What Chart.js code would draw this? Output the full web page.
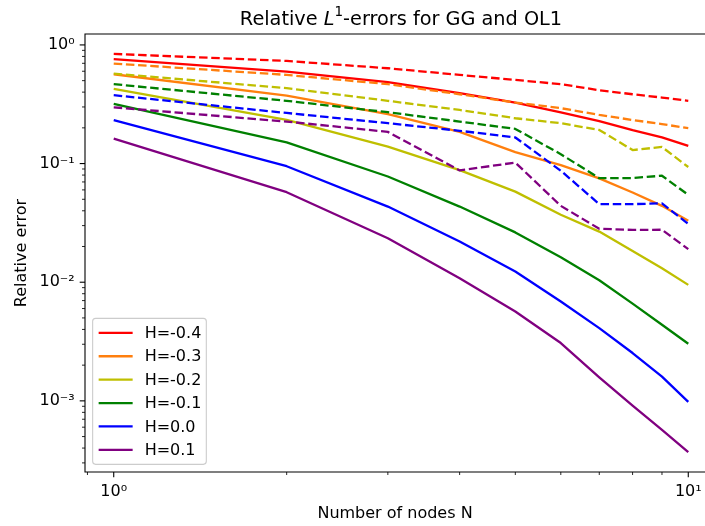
<!DOCTYPE html>
<html>
<head>
<title>Relative L1-errors for GG and OL1</title>
<script src="https://cdn.jsdelivr.net/npm/chart.js@4.4.0/dist/chart.umd.min.js"></script>
<style>
html, body { margin: 0; padding: 0; overflow: hidden; background: #fff; }
</style>
</head>
<body>
<canvas id="errs" width="705" height="526"></canvas>

<script>
// ---- data ----
var nodes = [1, 2, 3, 4, 5, 6, 7, 8, 9, 10];
var hLabels = ['H=-0.4', 'H=-0.3', 'H=-0.2', 'H=-0.1', 'H=0.0', 'H=0.1'];
var lineColors = ['#ff0000', '#ff7f0e', '#bfbf00', '#008000', '#0000ff', '#800080'];

// solid lines (GG)
var ggM04 = [0.758, 0.596, 0.485, 0.392, 0.327, 0.270, 0.228, 0.191, 0.166, 0.141];
var ggM03 = [0.566, 0.374, 0.261, 0.185, 0.125, 0.097, 0.075, 0.057, 0.044, 0.033];
var ggM02 = [0.426, 0.233, 0.139, 0.088, 0.058, 0.037, 0.0267, 0.0183, 0.0131, 0.0095];
var ggM01 = [0.318, 0.151, 0.0778, 0.0434, 0.0263, 0.0162, 0.0104, 0.0066, 0.00438, 0.00303];
var gg00  = [0.232, 0.095, 0.0434, 0.022, 0.0123, 0.00688, 0.0041, 0.00253, 0.0016, 0.00098];
var ggP01 = [0.162, 0.0574, 0.0235, 0.0108, 0.00566, 0.00307, 0.00158, 0.00091, 0.00057, 0.00037];

// dashed lines (OL1)
var olM04 = [0.84, 0.733, 0.636, 0.559, 0.507, 0.467, 0.415, 0.384, 0.36, 0.338];
var olM03 = [0.697, 0.559, 0.467, 0.384, 0.327, 0.293, 0.257, 0.233, 0.215, 0.199];
var olM02 = [0.573, 0.432, 0.338, 0.283, 0.241, 0.219, 0.192, 0.130, 0.138, 0.0935];
var olM01 = [0.467, 0.338, 0.271, 0.226, 0.196, 0.120, 0.0753, 0.0755, 0.079, 0.0545];
var ol00  = [0.377, 0.267, 0.219, 0.189, 0.166, 0.087, 0.0455, 0.0455, 0.0462, 0.031];
var olP01 = [0.298, 0.226, 0.185, 0.0875, 0.102, 0.044, 0.0282, 0.0276, 0.0277, 0.019];

var ggSeries = [ggM04, ggM03, ggM02, ggM01, gg00, ggP01];
var olSeries = [olM04, olM03, olM02, olM01, ol00, olP01];

var titleText = ['Relative ', 'L', '1', '-errors for GG and OL1'];
var xTitle = 'Number of nodes N';
var yTitle = 'Relative error';

// ---- layout: the picture cuts the plot off on the right, no right spine ----
var FONT = '"DejaVu Sans", sans-serif';
var FS = 16;
var LW = 2.3;
var PLOT = {left: 85, top: 34, bottom: 472, right: 705, fullRight: 717};
var canvasW = 705, canvasH = 526;

// build datasets, matplotlib draws later lines on top -> lower order in Chart.js
var datasets = [];
var k = 0;
function pushSet(vals, i, dashed) {
  datasets.push({
    label: hLabels[i],
    data: nodes.map(function (n, j) { return {x: n, y: vals[j]}; }),
    borderColor: lineColors[i],
    backgroundColor: lineColors[i],
    borderWidth: LW,
    borderDash: dashed ? [8.5, 3.7] : [],
    borderJoinStyle: 'round',
    borderCapStyle: 'butt',
    pointRadius: 0,
    fill: false,
    tension: 0,
    inLegend: !dashed,
    order: 100 - (k++)
  });
}
ggSeries.forEach(function (s, i) { pushSet(s, i, false); });
olSeries.forEach(function (s, i) { pushSet(s, i, true); });

// axis limits with matplotlib's 5% margin in log space
function logLimits(vals) {
  var lo = Math.log10(Math.min.apply(null, vals));
  var hi = Math.log10(Math.max.apply(null, vals));
  var m = (hi - lo) * 0.05;
  return {min: Math.pow(10, lo - m), max: Math.pow(10, hi + m)};
}
var allY = [].concat.apply([], ggSeries.concat(olSeries));
var xLim = logLimits(nodes);
var yLim = logLimits(allY);
// only the visible part of the x range
(function () {
  var lo = Math.log10(xLim.min), hi = Math.log10(xLim.max);
  var frac = (PLOT.right - PLOT.left) / (PLOT.fullRight - PLOT.left);
  xLim.max = Math.pow(10, lo + (hi - lo) * frac);
})();

function logTicks(scale) {
  var out = [];
  var e0 = Math.floor(Math.log10(scale.min)), e1 = Math.ceil(Math.log10(scale.max));
  for (var e = e0; e <= e1; e++) {
    for (var m = 1; m <= 9; m++) {
      var v = m * Math.pow(10, e);
      if (v >= scale.min && v <= scale.max) out.push({value: v, major: m === 1});
    }
  }
  scale.ticks = out;
}

var supDigits = {'0': '⁰', '1': '¹', '2': '²', '3': '³', '4': '⁴', '5': '⁵', '6': '⁶', '7': '⁷', '8': '⁸', '9': '⁹', '-': '⁻'};
function decadeLabel(value) {
  var e = Math.log10(value);
  if (Math.abs(e - Math.round(e)) > 1e-6) return '';
  return '10' + String(Math.round(e)).split('').map(function (c) { return supDigits[c]; }).join('');
}

var tickBase = {
  autoSkip: false, maxRotation: 0, minRotation: 0,
  color: '#000', padding: 5,
  font: {family: FONT, size: FS},
  callback: function (value) { return decadeLabel(value); }
};
var gridBase = {
  display: true, drawOnChartArea: false, drawTicks: true,
  tickLength: 5.3, tickColor: 'rgba(0,0,0,0)'
};

// frame, tick marks, title and legend like matplotlib
var mplPlugin = {
  id: 'mplLook',
  afterDatasetsDraw: function (chart) {
    var ctx = chart.ctx, a = chart.chartArea;
    var xs = chart.scales.x, ys = chart.scales.y;
    ctx.save();
    ctx.strokeStyle = '#000';
    xs.ticks.forEach(function (t) {
      var p = xs.getPixelForValue(t.value);
      var len = t.major ? 5.3 : 3;
      ctx.lineWidth = t.major ? 1.1 : 0.85;
      ctx.beginPath(); ctx.moveTo(p, a.bottom); ctx.lineTo(p, a.bottom + len); ctx.stroke();
    });
    ys.ticks.forEach(function (t) {
      var p = ys.getPixelForValue(t.value);
      var len = t.major ? 5.3 : 3;
      ctx.lineWidth = t.major ? 1.1 : 0.85;
      ctx.beginPath(); ctx.moveTo(a.left, p); ctx.lineTo(a.left - len, p); ctx.stroke();
    });
    ctx.lineWidth = 1.1;
    ctx.beginPath();
    ctx.moveTo(a.right + 2, a.top); ctx.lineTo(a.left, a.top);
    ctx.lineTo(a.left, a.bottom); ctx.lineTo(a.right + 2, a.bottom);
    ctx.stroke();

    // title with italic L and superscript 1
    var tf = 19.3;
    var parts = [
      {t: titleText[0], f: tf + 'px ' + FONT, dy: 0},
      {t: titleText[1], f: 'italic ' + tf + 'px ' + FONT, dy: 0},
      {t: titleText[2], f: (tf * 0.7) + 'px ' + FONT, dy: -tf * 0.45},
      {t: titleText[3], f: tf + 'px ' + FONT, dy: 0}
    ];
    var total = 0;
    parts.forEach(function (p) { ctx.font = p.f; p.w = ctx.measureText(p.t).width; total += p.w; });
    var x = (a.left + PLOT.fullRight) / 2 - total / 2, base = a.top - 9;
    ctx.fillStyle = '#000';
    ctx.textBaseline = 'alphabetic';
    ctx.textAlign = 'left';
    parts.forEach(function (p) { ctx.font = p.f; ctx.fillText(p.t, x, base + p.dy); x += p.w; });

    // legend, lower left
    var items = chart.data.datasets.filter(function (d) { return d.inLegend; });
    var step = 23.4, pad = 6.1;
    ctx.font = FS + 'px ' + FONT;
    var tw = 0;
    items.forEach(function (d) { tw = Math.max(tw, ctx.measureText(d.label).width); });
    var bw = 52 + tw + 5;
    var bh = 2 * pad + (items.length - 1) * step + 16.8;
    var bx = a.left + 7.65, by = a.bottom - 7.65 - bh;
    ctx.beginPath();
    if (ctx.roundRect) ctx.roundRect(bx, by, bw, bh, 3); else ctx.rect(bx, by, bw, bh);
    ctx.fillStyle = 'rgba(255,255,255,0.8)';
    ctx.fill();
    ctx.strokeStyle = '#cccccc';
    ctx.lineWidth = 1.1;
    ctx.stroke();
    ctx.textBaseline = 'middle';
    items.forEach(function (d, i) {
      var cy = by + pad + 8.4 + i * step;
      ctx.strokeStyle = d.borderColor;
      ctx.lineWidth = LW;
      ctx.beginPath(); ctx.moveTo(bx + 6, cy); ctx.lineTo(bx + 40, cy); ctx.stroke();
      ctx.fillStyle = '#000';
      ctx.fillText(d.label, bx + 52, cy + 1);
    });
    ctx.restore();
  }
};

var chart = new Chart(document.getElementById('errs').getContext('2d'), {
  type: 'line',
  data: {datasets: datasets},
  options: {
    responsive: false,
    animation: false,
    devicePixelRatio: 1,
    layout: {padding: {left: 0, top: PLOT.top, right: canvasW - PLOT.right, bottom: 0}},
    plugins: {legend: {display: false}, title: {display: false}, tooltip: {enabled: false}},
    scales: {
      x: {
        type: 'logarithmic', position: 'bottom',
        min: xLim.min, max: xLim.max,
        afterBuildTicks: logTicks,
        afterFit: function (s) { s.height = canvasH - PLOT.bottom; s.paddingRight = 0; },
        ticks: tickBase,
        grid: gridBase,
        border: {display: false},
        title: {display: true, text: xTitle, color: '#000', font: {family: FONT, size: FS}, padding: {top: 0, bottom: 3}}
      },
      y: {
        type: 'logarithmic', position: 'left',
        min: yLim.min, max: yLim.max,
        afterBuildTicks: logTicks,
        afterFit: function (s) { s.width = PLOT.left; },
        ticks: tickBase,
        grid: gridBase,
        border: {display: false},
        title: {display: true, text: yTitle, color: '#000', font: {family: FONT, size: FS}, padding: {top: 12, bottom: 0}}
      }
    }
  },
  plugins: [mplPlugin]
});
</script>
</body>
</html>
